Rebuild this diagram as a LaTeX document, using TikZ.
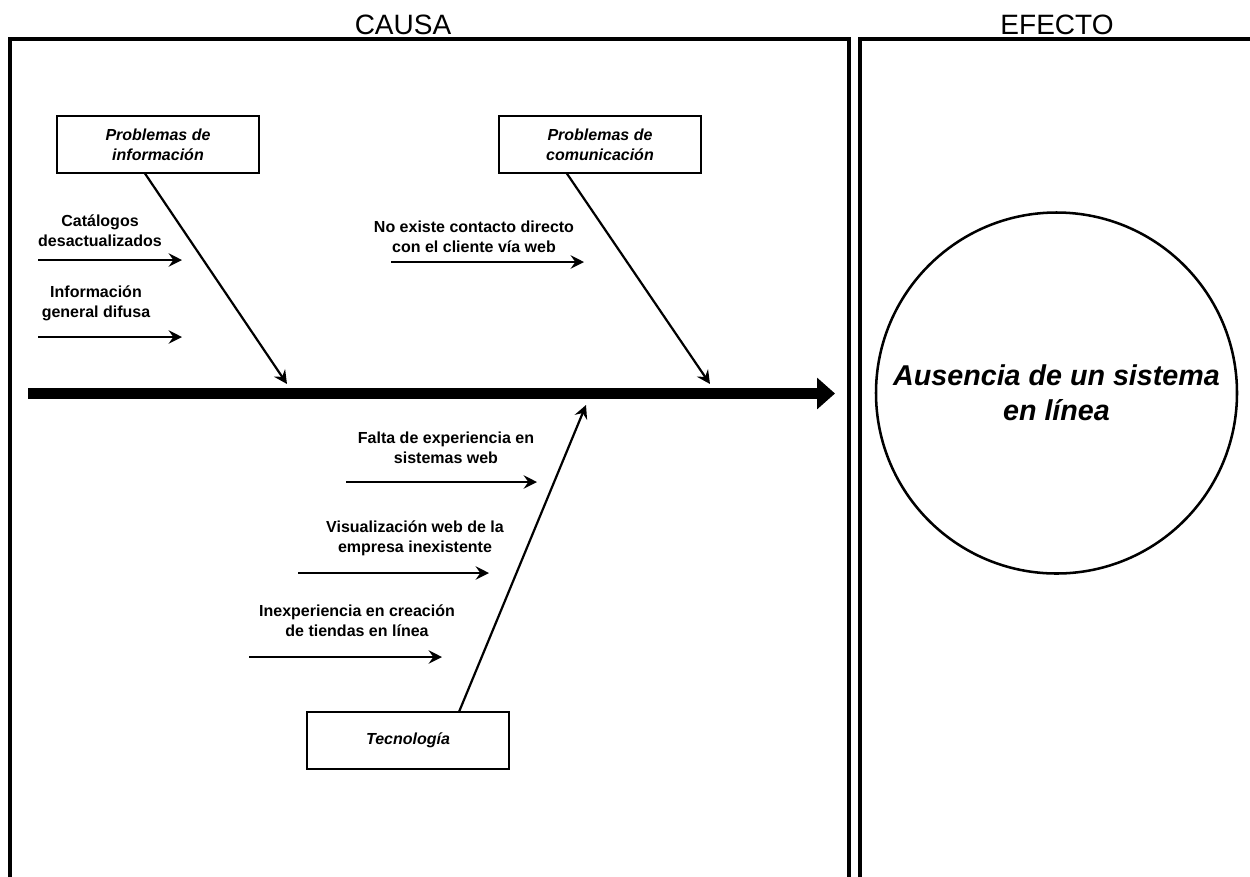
\documentclass[tikz,border=0pt]{standalone}
\usepackage{fontspec}
\setmainfont{Liberation Sans}
\usetikzlibrary{arrows.meta,calc}
\begin{document}
\begin{tikzpicture}[x=0.75pt,y=-0.75pt,
  frame/.style={line width=3pt},
  title/.style={font=\fontsize{21}{25}\selectfont, inner sep=0pt},
  catbox/.style={draw, line width=0.8pt, minimum width=151.5pt, minimum height=42.75pt, inner sep=0pt, align=center, font=\fontsize{12}{15}\selectfont\bfseries\itshape},
  sublabel/.style={inner sep=0pt, align=center, font=\fontsize{12}{15}\selectfont\bfseries},
  bone/.style={line width=1.65pt, -{Stealth[length=10pt,width=10pt,inset=3.5pt]}},
  spine/.style={line width=8.25pt, -{Triangle[length=13.5pt,width=23pt]}},
  effectcircle/.style={draw, circle, line width=1.9pt, minimum size=270.75pt, inner sep=0pt, align=center, font=\fontsize{21.5}{26.25}\selectfont\bfseries\itshape}]
\useasboundingbox (0,0) rectangle (1250,876);
\begin{scope}
  \clip (0,0) rectangle (1250,876);
  \draw[frame] (9.5,38.7) rectangle (848.5,900);
  \draw[frame] (859.5,38.7) rectangle (1262,900);
\end{scope}
% titles
\node[title] (causa) at (403,24.5) {CAUSA};
\node[title] (efecto) at (1057,24.5) {EFECTO};
% spine
\coordinate (spinestart) at (28,393.5);
\coordinate (spineend) at (835,393.5);
\draw[spine] (spinestart) -- (spineend);
% effect
\node[effectcircle] (effect) at (1056.5,393) {Ausencia de un sistema\\en línea};
% category boxes
\node[catbox] (info) at (158,144.5) {Problemas de\\información};
\node[catbox] (comu) at (600,144.5) {Problemas de\\comunicación};
\node[catbox] (tec) at (408,740.5) {Tecnología};
% bone tips
\coordinate (tipinfo) at (287,384);
\coordinate (tipcomu) at (710,384);
\coordinate (tiptec) at (586,405);
\draw[bone] ($(info.south west)!0.436!(info.south east)$) -- (tipinfo);
\draw[bone] ($(comu.south west)!0.337!(comu.south east)$) -- (tipcomu);
\draw[bone] ($(tec.north west)!0.752!(tec.north east)$) -- (tiptec);
% sub-causes
\node[sublabel] (l1) at (100,231) {Catálogos\\desactualizados};
\node[sublabel] (l2) at (96,303) {Información\\general difusa};
\node[sublabel] (l3) at (474,237) {No existe contacto directo\\con el cliente vía web};
\node[sublabel] (l4) at (446,447.5) {Falta de experiencia en\\sistemas web};
\node[sublabel] (l5) at (415,538) {Visualización web de la\\empresa inexistente};
\node[sublabel] (l6) at (357,621) {Inexperiencia en creación\\de tiendas en línea};
\coordinate (a1s) at (38,260);  \coordinate (a1e) at (182,260);
\coordinate (a2s) at (38,337);  \coordinate (a2e) at (182,337);
\coordinate (a3s) at (391,262); \coordinate (a3e) at (584,262);
\coordinate (a4s) at (346,482); \coordinate (a4e) at (537,482);
\coordinate (a5s) at (298,573); \coordinate (a5e) at (489,573);
\coordinate (a6s) at (249,657); \coordinate (a6e) at (442,657);
\draw[bone] (a1s) -- (a1e);
\draw[bone] (a2s) -- (a2e);
\draw[bone] (a3s) -- (a3e);
\draw[bone] (a4s) -- (a4e);
\draw[bone] (a5s) -- (a5e);
\draw[bone] (a6s) -- (a6e);
\end{tikzpicture}
\end{document}
